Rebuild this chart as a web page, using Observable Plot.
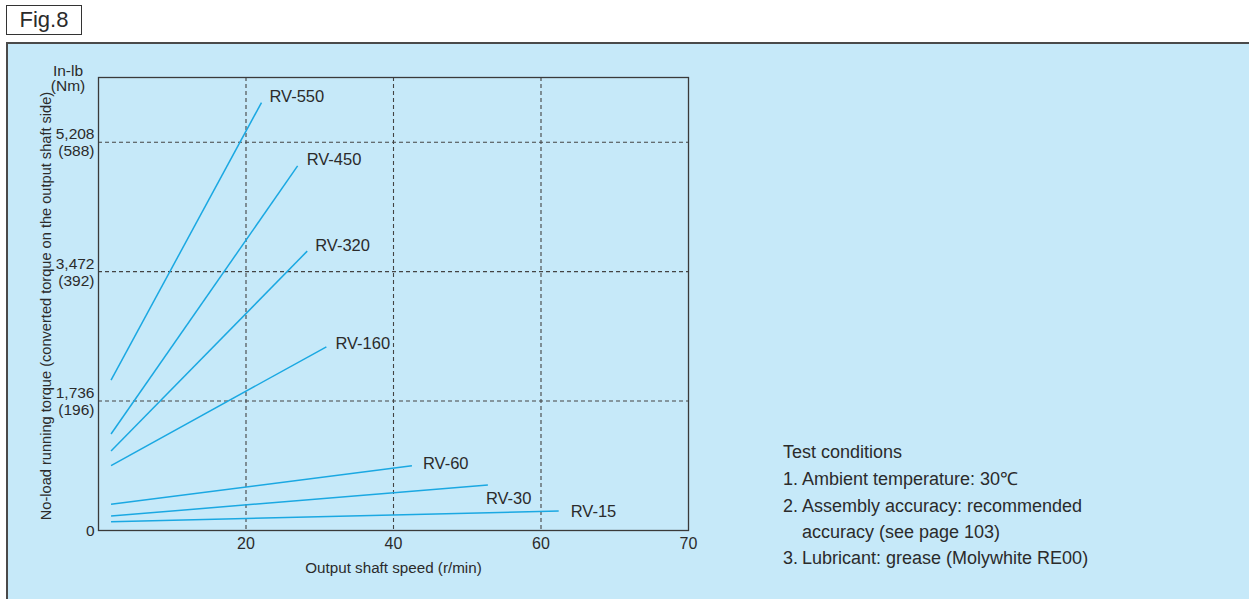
<!DOCTYPE html>
<html><head><meta charset="utf-8">
<script src="https://cdn.jsdelivr.net/npm/d3@7"></script>
<script src="https://cdn.jsdelivr.net/npm/@observablehq/plot@0.6"></script>
<style>
body{margin:0;background:#fff;}
#wrap{position:relative;width:1249px;height:599px;overflow:hidden;font-family:"Liberation Sans",Arial,sans-serif;color:#2b2b2b;}
#fig{position:absolute;left:6px;top:5px;width:74px;height:28px;border:1px solid #333;font-size:22px;line-height:28px;text-align:center;background:#fff;}
#panel{position:absolute;left:6px;top:42px;width:1300px;height:600px;background:#c6e9f9;border-left:2px solid #4a4a4a;border-top:2px solid #4a4a4a;}
#chart{position:absolute;left:0;top:0;}
.unit{position:absolute;left:38px;width:60px;font-size:15.5px;line-height:16px;text-align:center;}
.cond{position:absolute;font-size:18px;line-height:26px;white-space:nowrap;}
</style>
</head>
<body>
<div id="wrap">
  <div id="fig">Fig.8</div>
  <div id="panel"></div>
  <div id="chart"></div>
  <div class="unit" style="top:63px">In-lb</div>
  <div class="unit" style="top:78px">(Nm)</div>
  <div id="cond"></div>
</div>
<script>
// ---- data ----
const models = ["RV-550", "RV-450", "RV-320", "RV-160", "RV-60", "RV-30", "RV-15"];
const speedStart = [1.7, 1.7, 1.7, 1.7, 1.7, 1.7, 1.7];
const speedEnd = [22.1, 27.0, 28.3, 30.9, 42.5, 52.8, 61.2];
const torqueStart = [2017, 1294, 1066, 869, 351, 194, 118];
const torqueEnd = [5740, 4890, 3747, 2464, 869, 610, 261];
const xTicks = [20, 40, 60, 70];
const xGrid = [20, 40, 60];
const yTicksInLb = [0, 1736, 3472, 5208];
const yTicksNm = [0, 196, 392, 588];
const yGrid = [1736, 3472, 5208];
const xTitle = "Output shaft speed (r/min)";
const yTitle = "No-load running torque (converted torque on the output shaft side)";
const condTitle = "Test conditions";
const condNums = ["1.", "2.", "", "3."];
const condLines = ["Ambient temperature: 30℃", "Assembly accuracy: recommended", "accuracy (see page 103)", "Lubricant: grease (Molywhite RE00)"];

// ---- styles / layout ----
const lineColor = "#1aa8e2";
const labelOffsets = [[8, -6], [9, -6], [8, -5], [9, -3], [11, -2], [-2, 14], [12, 1]];
const W = 1249, H = 599, mL = 98, mR = 561, mT = 77, mB = 69;
const r0 = mL, r1 = W - mR;
// the printed axis is piecewise: 0–60 evenly spaced, the last 60–70 step drawn as wide as a 20 step
const xRange = [r0, r0 + (r1 - r0) * 0.75, r1];

const rows = models.map((m, i) => ({model: m, x1: speedStart[i], y1: torqueStart[i], x2: speedEnd[i], y2: torqueEnd[i]}));
const fmt = d3.format(",");
const yFormat = d => {
  const i = yTicksInLb.indexOf(d);
  return d === 0 ? "0" : `${fmt(d)}\n(${yTicksNm[i]})`;
};

const labelMarks = rows.map((r, i) => Plot.text([r], {
  x: "x2", y: "y2", text: "model", textAnchor: "start",
  dx: labelOffsets[i][0], dy: labelOffsets[i][1], fontSize: 16.5, fill: "#2b2b2b"
}));

const plot = Plot.plot({
  width: W, height: H,
  marginLeft: mL, marginRight: mR, marginTop: mT, marginBottom: mB,
  style: {background: "transparent", fontFamily: "Liberation Sans, Arial, sans-serif", color: "#2b2b2b", overflow: "visible"},
  x: {type: "linear", domain: [0, 60, 70], range: xRange},
  y: {domain: [0, 6076]},
  marks: [
    Plot.gridX(xGrid, {stroke: "#444", strokeOpacity: 1, strokeDasharray: "4,3", strokeWidth: 1.1}),
    Plot.gridY(yGrid, {stroke: "#444", strokeOpacity: 1, strokeDasharray: "4,3", strokeWidth: 1.1}),
    Plot.frame({stroke: "#3a3a3a", strokeWidth: 1.3}),
    Plot.axisX(xTicks, {tickSize: 0, tickPadding: 7, fontSize: 16, label: null, fill: "#2b2b2b"}),
    Plot.axisY(yTicksInLb, {tickSize: 0, tickPadding: 4, fontSize: 15.5, lineHeight: 1.1, tickFormat: yFormat, label: null, fill: "#2b2b2b"}),
    Plot.link(rows, {x1: "x1", y1: "y1", x2: "x2", y2: "y2", stroke: lineColor, strokeWidth: 1.5}),
    ...labelMarks,
    Plot.text([xTitle], {text: d => d, frameAnchor: "bottom", dy: 42, fontSize: 15.2, fill: "#2b2b2b"}),
    Plot.text([yTitle], {text: d => d, frameAnchor: "left", textAnchor: "middle", rotate: -90, dx: -52, dy: 2, fontSize: 14.6, fill: "#2b2b2b"})
  ]
});
document.getElementById("chart").appendChild(plot);

// test conditions
const cond = document.getElementById("cond");
const tops = [439, 466, 493, 519, 545];
const t = document.createElement("div");
t.className = "cond"; t.style.left = "783px"; t.style.top = tops[0] + "px"; t.textContent = condTitle;
cond.appendChild(t);
condLines.forEach((s, i) => {
  if (condNums[i]) {
    const n = document.createElement("div");
    n.className = "cond"; n.style.left = "783px"; n.style.top = tops[i + 1] + "px"; n.textContent = condNums[i];
    cond.appendChild(n);
  }
  const d = document.createElement("div");
  d.className = "cond"; d.style.left = "802px"; d.style.top = tops[i + 1] + "px"; d.textContent = s;
  cond.appendChild(d);
});
</script>
</body></html>
